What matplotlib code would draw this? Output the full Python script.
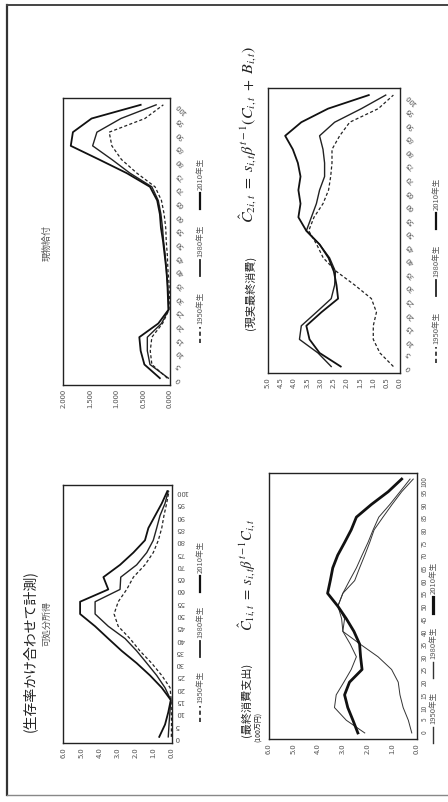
import numpy as np
import matplotlib
matplotlib.use('Agg')
import matplotlib.pyplot as plt
from matplotlib.lines import Line2D
from matplotlib.ticker import FormatStrFormatter

plt.rcParams['font.family'] = ['Noto Sans CJK JP', 'DejaVu Sans']
plt.rcParams['mathtext.fontset'] = 'stix'

ages = list(range(0, 101, 5))
cohorts = ['1950年生', '1980年生', '2010年生']

# 現物給付 (百万円)
inkind_1950 = [0.05, 0.34, 0.37, 0.34, 0.14, 0.02, 0.01, 0.02, 0.04, 0.05, 0.07,
               0.08, 0.11, 0.16, 0.28, 0.62, 0.91, 1.09, 1.14, 0.47, 0.125]
inkind_1980 = [0.03, 0.375, 0.425, 0.425, 0.16, 0.025, 0.03, 0.05, 0.07, 0.09, 0.12,
               0.14, 0.17, 0.22, 0.34, 0.75, 1.09, 1.45, 1.37, 0.92, 0.26]
inkind_2010 = [0.19, 0.48, 0.55, 0.575, 0.22, 0.03, 0.04, 0.05, 0.07, 0.10, 0.13,
               0.17, 0.19, 0.24, 0.375, 0.81, 1.33, 1.86, 1.82, 1.47, 0.55]

# 現実最終消費
actual_1950 = [0.25, 0.76, 1.01, 1.01, 0.89, 1.08, 1.71, 2.40, 2.90, 3.15, 3.45,
               3.25, 2.91, 2.70, 2.62, 2.57, 2.57, 2.28, 1.90, 0.82, 0.25]
actual_1980 = [2.60, 3.10, 3.80, 3.73, 3.16, 2.60, 2.47, 2.44, 2.66, 3.04, 3.54,
               3.35, 3.16, 3.04, 2.85, 2.85, 2.91, 3.04, 2.47, 1.46, 0.54]
actual_2010 = [2.24, 3.04, 3.42, 3.54, 2.97, 2.34, 2.40, 2.50, 2.70, 3.04, 3.54,
               3.84, 3.76, 3.84, 3.76, 3.86, 4.05, 4.34, 3.73, 2.72, 1.18]

# 可処分所得
income_1950 = [0.02, 0.01, 0.02, 0.03, 0.09, 0.55, 1.11, 1.76, 2.31, 2.96, 3.19,
               2.96, 2.49, 2.12, 1.48, 1.02, 0.74, 0.55, 0.43, 0.28, 0.15]
income_1980 = [0.19, 0.15, 0.10, 0.05, 0.37, 0.83, 1.38, 1.94, 2.58, 3.51, 4.24,
               4.24, 2.86, 2.82, 1.94, 1.38, 1.02, 0.83, 0.65, 0.37, 0.19]
income_2010 = [0.69, 0.37, 0.19, 0.05, 0.55, 1.20, 1.94, 2.77, 3.51, 4.24, 5.07,
               5.07, 3.51, 3.78, 2.86, 2.12, 1.48, 1.29, 0.92, 0.55, 0.24]

# 最終消費支出
final_1950 = [0.20, 0.34, 0.55, 0.68, 0.75, 1.02, 1.57, 2.30, 3.00, 3.05, 3.20,
              3.00, 2.52, 2.32, 2.11, 1.91, 1.73, 1.37, 1.00, 0.61, 0.14]
final_1980 = [2.11, 2.86, 3.34, 3.27, 2.96, 2.66, 2.45, 2.70, 3.00, 2.93, 3.20,
              3.00, 2.73, 2.45, 2.22, 1.98, 1.77, 1.54, 1.09, 0.68, 0.27]
final_2010 = [2.39, 2.59, 2.80, 2.93, 2.73, 2.22, 2.28, 2.32, 2.55, 2.86, 3.21,
              3.62, 3.51, 3.41, 3.21, 2.93, 2.66, 2.45, 1.84, 1.16, 0.61]

W, H = 448, 802
fig = plt.figure(figsize=(W / 100, H / 100), dpi=100)
GRAY = '#555555'
INK = '#222222'

# styles: (color, linewidth, linestyle)
style_dash = [('#222222', 0.9, (0, (2.5, 1.8))), ('#222222', 1.0, '-'), ('#111111', 1.3, '-')]
style_thin = [('#333333', 0.7, '-'), ('#333333', 0.7, '-'), ('#111111', 2.0, '-')]


def px_axes(x0, y0, x1, y1):
    # page pixel box (top-left origin) -> axes
    return fig.add_axes([x0 / W, 1 - y1 / H, (x1 - x0) / W, (y1 - y0) / H])


def setup_panel(ax, vmax, vstep, fmt, age_rot, age_size=5.5):
    ax.set_xlim(vmax, 0)
    ax.set_ylim(-2.5, 102.5)
    ax.set_xticks(np.arange(0, vmax + vstep / 2, vstep))
    ax.xaxis.set_major_formatter(FormatStrFormatter(fmt))
    ax.set_yticks(ages)
    ax.yaxis.tick_right()
    ax.tick_params(length=0, labelsize=5.5, labelcolor=GRAY)
    ax.tick_params(axis='x', labelrotation=90, pad=3)
    ax.tick_params(axis='y', labelrotation=age_rot, pad=3, labelsize=age_size)
    for s in ax.spines.values():
        s.set_linewidth(1.0)
        s.set_color(INK)


def draw_series(ax, series, styles):
    for vals, (c, lw, ls) in zip(series, styles):
        ax.plot(vals, ages, color=c, lw=lw, ls=ls)


def draw_legend(x, y_bottom, styles, gap=10):
    # vertical legend reading bottom to top
    y = y_bottom
    for label, (c, lw, ls) in zip(cohorts, styles):
        fig.add_artist(Line2D([x / W, x / W], [1 - y / H, 1 - (y - 16) / H],
                              color=c, lw=lw + 0.3, ls=ls))
        fig.text((x + 0.5) / W, 1 - (y - 19) / H, label, rotation=90,
                 ha='center', va='bottom', fontsize=5.5, color=GRAY)
        y -= 16 + 3 + 40 + gap


# 現物給付
axA = px_axes(63.3, 98, 170, 385)
setup_panel(axA, 2.0, 0.5, '%.3f', 135)
draw_series(axA, [inkind_1950, inkind_1980, inkind_2010], style_dash)
fig.text(47 / W, 1 - 243 / H, '現物給付', rotation=90, ha='center', va='center',
         fontsize=6.5, color=GRAY)
draw_legend(200, 343, style_dash, gap=8)

# 現実最終消費
axB = px_axes(267.7, 88.3, 400, 373.3)
setup_panel(axB, 5.0, 0.5, '%.1f', 135)
draw_series(axB, [actual_1950, actual_1980, actual_2010], style_dash)
fig.text(250 / W, 1 - 293 / H, '(現実最終消費)', rotation=90, ha='center',
         va='center', fontsize=8, color=INK)
fig.text(248 / W, 1 - 134 / H,
         r'$\hat{C}_{2i,t}\ =\ s_{i,t}\beta^{t-1}(C_{i,t}\ +\ B_{i,t})$',
         rotation=90, ha='center', va='center', fontsize=11.5, color=INK)
draw_legend(436, 363, style_dash, gap=8)

# 可処分所得
axC = px_axes(63.3, 485, 171.7, 743)
setup_panel(axC, 6.0, 1.0, '%.1f', 180)
draw_series(axC, [income_1950, income_1980, income_2010], style_dash)
fig.text(30 / W, 1 - 651 / H, '(生存率かけ合わせて計測)', rotation=90, ha='center',
         va='center', fontsize=10, color=INK)
fig.text(47 / W, 1 - 623 / H, '可処分所得', rotation=90, ha='center', va='center',
         fontsize=6.5, color=GRAY)
draw_legend(200, 722, style_dash, gap=6)

# 最終消費支出
axD = px_axes(269, 472.7, 416.7, 739.3)
setup_panel(axD, 6.0, 1.0, '%.1f', 90, age_size=4.6)
draw_series(axD, [final_1950, final_1980, final_2010], style_thin)
fig.text(246 / W, 1 - 700 / H, '(最終消費支出)', rotation=90, ha='center',
         va='center', fontsize=8, color=INK)
fig.text(247 / W, 1 - 575 / H, r'$\hat{C}_{1i,t}\ =\ s_{i,t}\beta^{t-1}C_{i,t}$',
         rotation=90, ha='center', va='center', fontsize=10.5, color=INK)
fig.text(259 / W, 1 - 727 / H, '(100万円)', rotation=90, ha='center', va='center',
         fontsize=5, color=INK)
draw_legend(433, 743, style_thin, gap=6)

# page frame
fig.add_artist(Line2D([7 / W, 7 / W], [1 - 5 / H, 1 - 795 / H], color='#333333', lw=1.6))
fig.add_artist(Line2D([7 / W, 1], [1 - 5 / H, 1 - 5 / H], color='#444444', lw=1.4))
fig.add_artist(Line2D([7 / W, 1], [1 - 795 / H, 1 - 795 / H], color='#888888', lw=1.0))

fig.savefig('out.png', dpi=100)
